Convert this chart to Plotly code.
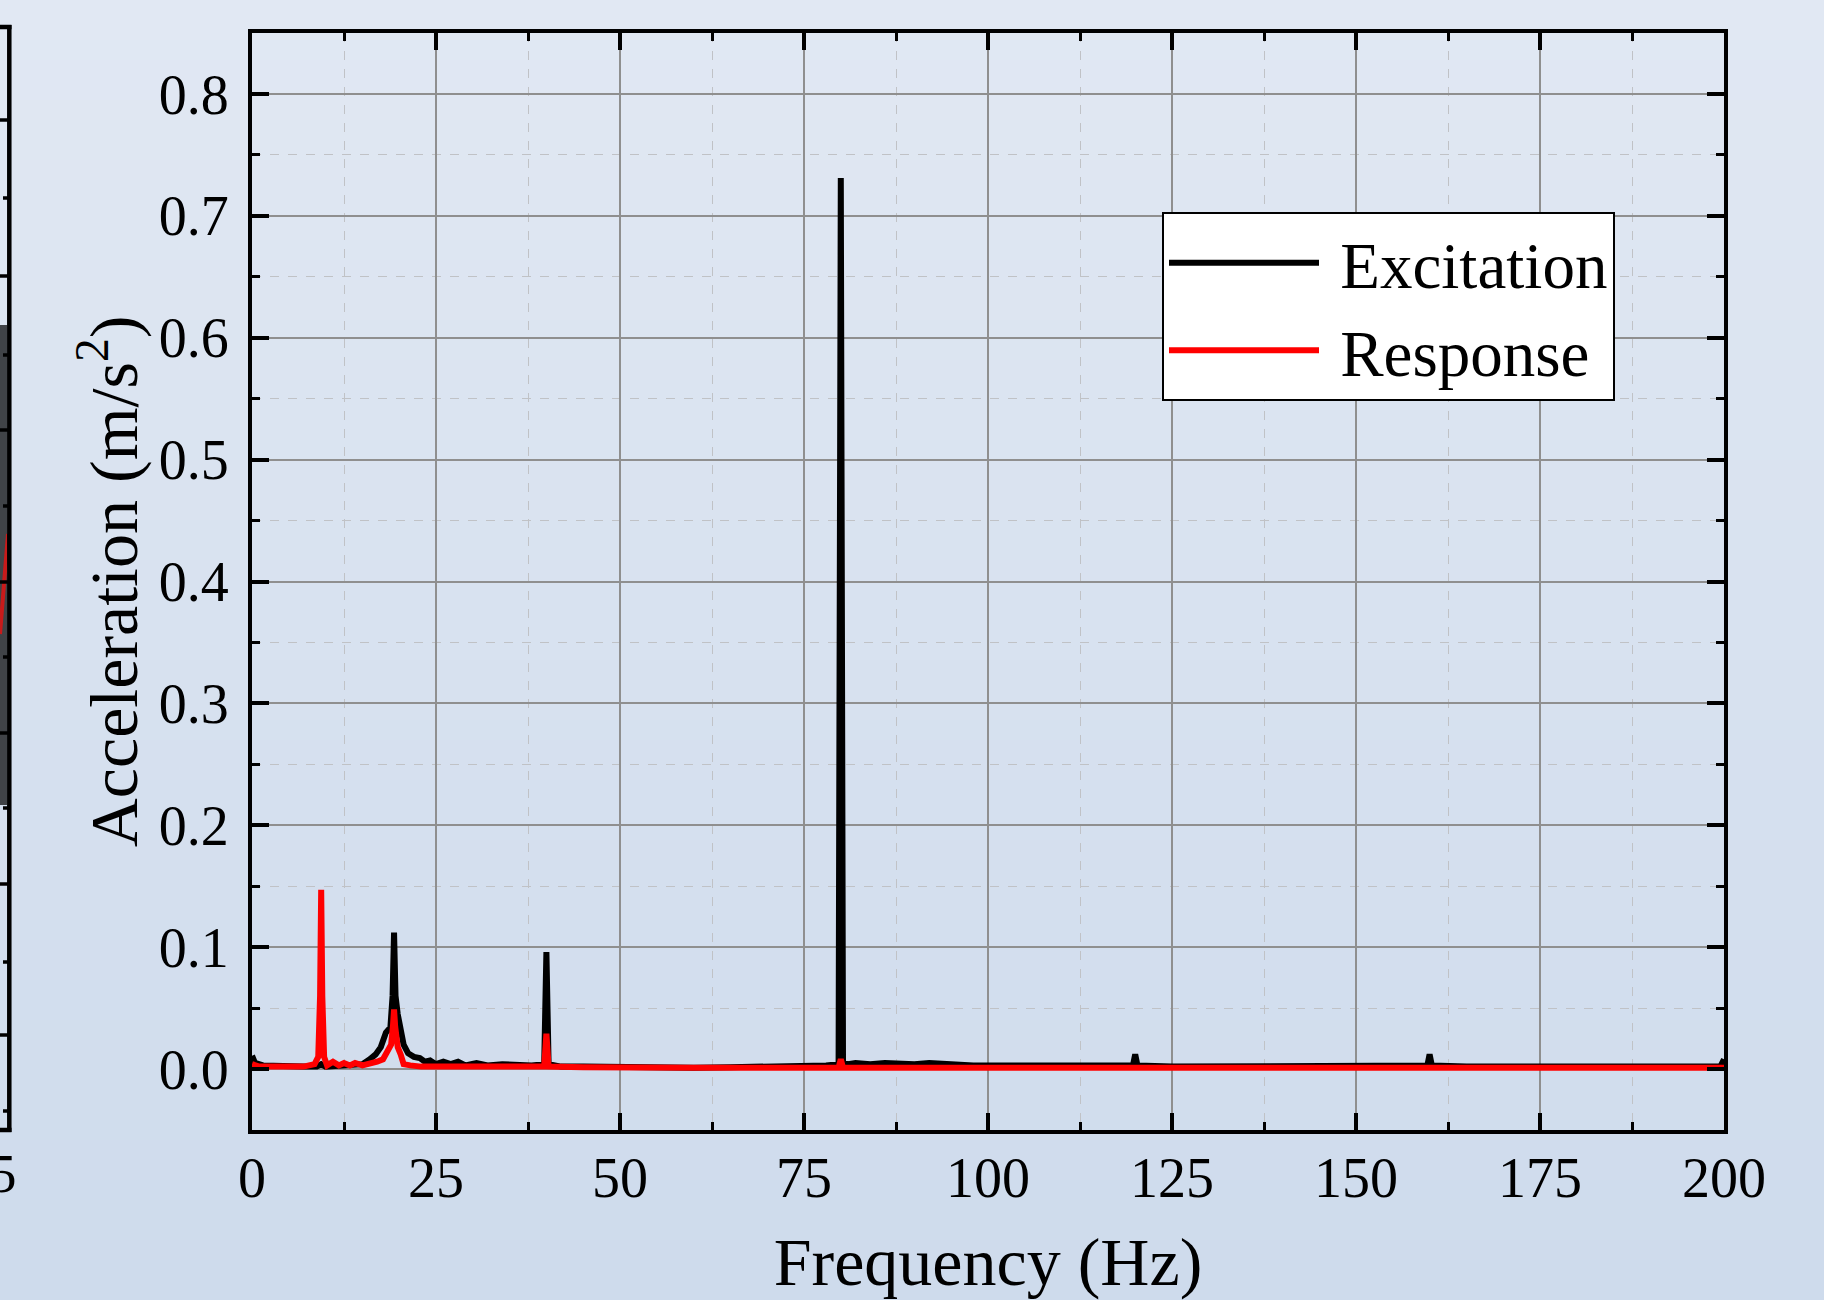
import plotly.graph_objects as go

# ---------------- data ----------------
freq_exc = [0, 0.4, 1.5, 4, 7, 8.8, 9.4, 10, 12, 13.5, 15, 16, 16.8, 17.5, 18.2, 18.8,
            19.1, 19.3, 19.5, 19.8, 20.2, 20.6, 21.2, 22, 22.8, 23.5, 24.2, 25, 26, 27,
            28, 29, 30.5, 32, 34, 36, 38, 39.7, 40.0, 40.3, 42, 45, 50, 55, 60, 65, 70,
            75, 78, 79.7, 80.0, 80.3, 81, 82, 84, 86, 88, 90, 92, 94, 96, 98, 100, 105,
            110, 115, 119.7, 120.0, 120.3, 125, 130, 140, 150, 155, 159.7, 160.0, 160.3,
            165, 170, 180, 190, 199.5, 200]
acc_exc = [0.011, 0.005, 0.003, 0.002, 0.002, 0.002, 0.004, 0.002, 0.003, 0.004, 0.004,
           0.008, 0.012, 0.018, 0.030, 0.034, 0.060, 0.112, 0.060, 0.045, 0.035, 0.020,
           0.013, 0.010, 0.009, 0.006, 0.007, 0.004, 0.006, 0.004, 0.006, 0.003, 0.005,
           0.003, 0.004, 0.003, 0.003, 0.004, 0.096, 0.004, 0.002, 0.002, 0.0015, 0.001,
           0.001, 0.0015, 0.002, 0.002, 0.003, 0.004, 0.731, 0.005, 0.004, 0.005, 0.004,
           0.005, 0.004, 0.004, 0.005, 0.004, 0.004, 0.003, 0.003, 0.003, 0.003, 0.003,
           0.003, 0.012, 0.003, 0.002, 0.002, 0.002, 0.002, 0.002, 0.003, 0.012, 0.003,
           0.002, 0.002, 0.002, 0.002, 0.002, 0.008]

freq_res = [0, 1, 4, 7, 8.5, 9.0, 9.25, 9.4, 9.55, 9.8, 10.2, 11, 11.8, 12.5, 13.3, 14,
            15, 16, 17, 17.8, 18.5, 18.9, 19.15, 19.3, 19.45, 19.8, 20.2, 20.6, 21.5, 23,
            25, 30, 35, 39.7, 40.0, 40.3, 45, 50, 60, 70, 79.7, 80.0, 80.3, 90, 120, 160, 200]
acc_res = [0.004, 0.002, 0.002, 0.002, 0.004, 0.010, 0.060, 0.147, 0.060, 0.010, 0.003,
           0.006, 0.003, 0.005, 0.003, 0.005, 0.003, 0.004, 0.006, 0.008, 0.015, 0.020,
           0.035, 0.049, 0.035, 0.018, 0.012, 0.004, 0.003, 0.002, 0.002, 0.002, 0.002,
           0.002, 0.029, 0.002, 0.0015, 0.001, 0.001, 0.001, 0.001, 0.008, 0.001, 0.001,
           0.001, 0.001, 0.001]

x_ticks = [0, 25, 50, 75, 100, 125, 150, 175, 200]
y_ticks = [0.0, 0.1, 0.2, 0.3, 0.4, 0.5, 0.6, 0.7, 0.8]
y_tick_labels = ["0.0", "0.1", "0.2", "0.3", "0.4", "0.5", "0.6", "0.7", "0.8"]
series_names = ["Excitation", "Response"]

# ---------------- layout helpers ----------------
W, H = 1824, 1300
ML, MR, MT, MB = 252, 100, 33, 170
PW, PH = W - ML - MR, H - MT - MB
FONT = "Liberation Serif"


def px(x):
    return (x - ML) / PW


def py(y):
    return (H - MB - y) / PH


shapes = []
# vertical background gradient
top_c, bot_c = (225, 232, 243), (206, 219, 236)
n = 65
for i in range(n):
    t = i / (n - 1)
    c = tuple(round(a + (b - a) * t) for a, b in zip(top_c, bot_c))
    shapes.append(dict(type="rect", xref="paper", yref="paper", layer="below",
                       x0=px(-10), x1=px(W + 10), y0=py(i * 20), y1=py(i * 20 + 21),
                       fillcolor="rgb(%d,%d,%d)" % c, line=dict(width=0)))

# clipped neighbouring panel at the far left edge
shapes += [
    dict(type="rect", xref="paper", yref="paper", x0=px(-5), x1=px(7), y0=py(325), y1=py(805),
         fillcolor="#404347", line=dict(width=0)),
    dict(type="line", xref="paper", yref="paper", x0=px(0), x1=px(8), y0=py(634), y1=py(534),
         line=dict(color="#c81a1a", width=4)),
    dict(type="line", xref="paper", yref="paper", x0=px(9.3), x1=px(9.3), y0=py(25), y1=py(1132),
         line=dict(color="black", width=4.5)),
    dict(type="line", xref="paper", yref="paper", x0=px(-5), x1=px(11.5), y0=py(27), y1=py(27),
         line=dict(color="black", width=4.5)),
    dict(type="line", xref="paper", yref="paper", x0=px(-5), x1=px(11.5), y0=py(1130), y1=py(1130),
         line=dict(color="black", width=4.5)),
]
for k, ty in enumerate([120, 198, 276, 355, 430, 506, 582, 657, 733, 808, 884, 962, 1035, 1111]):
    x0 = -2 if k % 2 == 0 else 3
    shapes.append(dict(type="line", xref="paper", yref="paper", x0=px(x0), x1=px(9), y0=py(ty), y1=py(ty),
                       line=dict(color="black", width=3.5)))

annotations = [dict(text="5", xref="paper", yref="paper", x=px(19), y=py(1173), xanchor="right",
                    yanchor="middle", showarrow=False, font=dict(family=FONT, size=55, color="black"))]

fig = go.Figure()
fig.add_trace(go.Scatter(x=freq_exc, y=acc_exc, mode="lines", name="\u00a0" + series_names[0],
                         line=dict(color="black", width=6)))
fig.add_trace(go.Scatter(x=freq_res, y=acc_res, mode="lines", name="\u00a0" + series_names[1],
                         line=dict(color="#ff0000", width=6)))

axis_common = dict(
    showline=True, linecolor="black", linewidth=4, mirror="allticks",
    ticks="inside", ticklen=17, tickwidth=3.5, tickcolor="black",
    showgrid=True, gridcolor="#8f8f8f", gridwidth=1.6, zeroline=False,
    tickfont=dict(family=FONT, size=56, color="black"),
    automargin=False,
)

fig.update_xaxes(
    **axis_common, range=[0, 200], tickmode="array", tickvals=x_ticks,
    ticklabelstandoff=-4,
    minor=dict(dtick=12.5, tick0=0, ticks="inside", ticklen=8, tickwidth=3, tickcolor="black",
               showgrid=True, gridcolor="#c0c2c6", griddash="dash", gridwidth=1.3),
    title=dict(text="Frequency (Hz)", font=dict(family=FONT, size=68, color="black"), standoff=82),
)
fig.update_yaxes(
    **axis_common, range=[-0.05, 0.85], tickmode="array", tickvals=y_ticks, ticktext=y_tick_labels,
    ticklabelstandoff=8,
    minor=dict(dtick=0.05, tick0=0, ticks="inside", ticklen=8, tickwidth=3, tickcolor="black",
               showgrid=True, gridcolor="#c0c2c6", griddash="dash", gridwidth=1.3),
    title=dict(text="Acceleration (m/s<sup>2</sup>)", font=dict(family=FONT, size=68, color="black"),
               standoff=0),
)

fig.update_layout(
    width=W, height=H, margin=dict(l=ML, r=MR, t=MT, b=MB),
    paper_bgcolor="rgb(216,226,240)", plot_bgcolor="rgba(0,0,0,0)",
    shapes=shapes, annotations=annotations,
    legend=dict(x=px(1162), y=py(212), xanchor="left", yanchor="top",
                bgcolor="white", bordercolor="black", borderwidth=2,
                font=dict(family=FONT, size=65, color="black"), itemwidth=150,
                tracegroupgap=0),
    showlegend=True,
)

fig.write_html("out.html", config={"displayModeBar": False},
               post_script="document.body.style.margin='0px';document.body.style.overflow='hidden';")
